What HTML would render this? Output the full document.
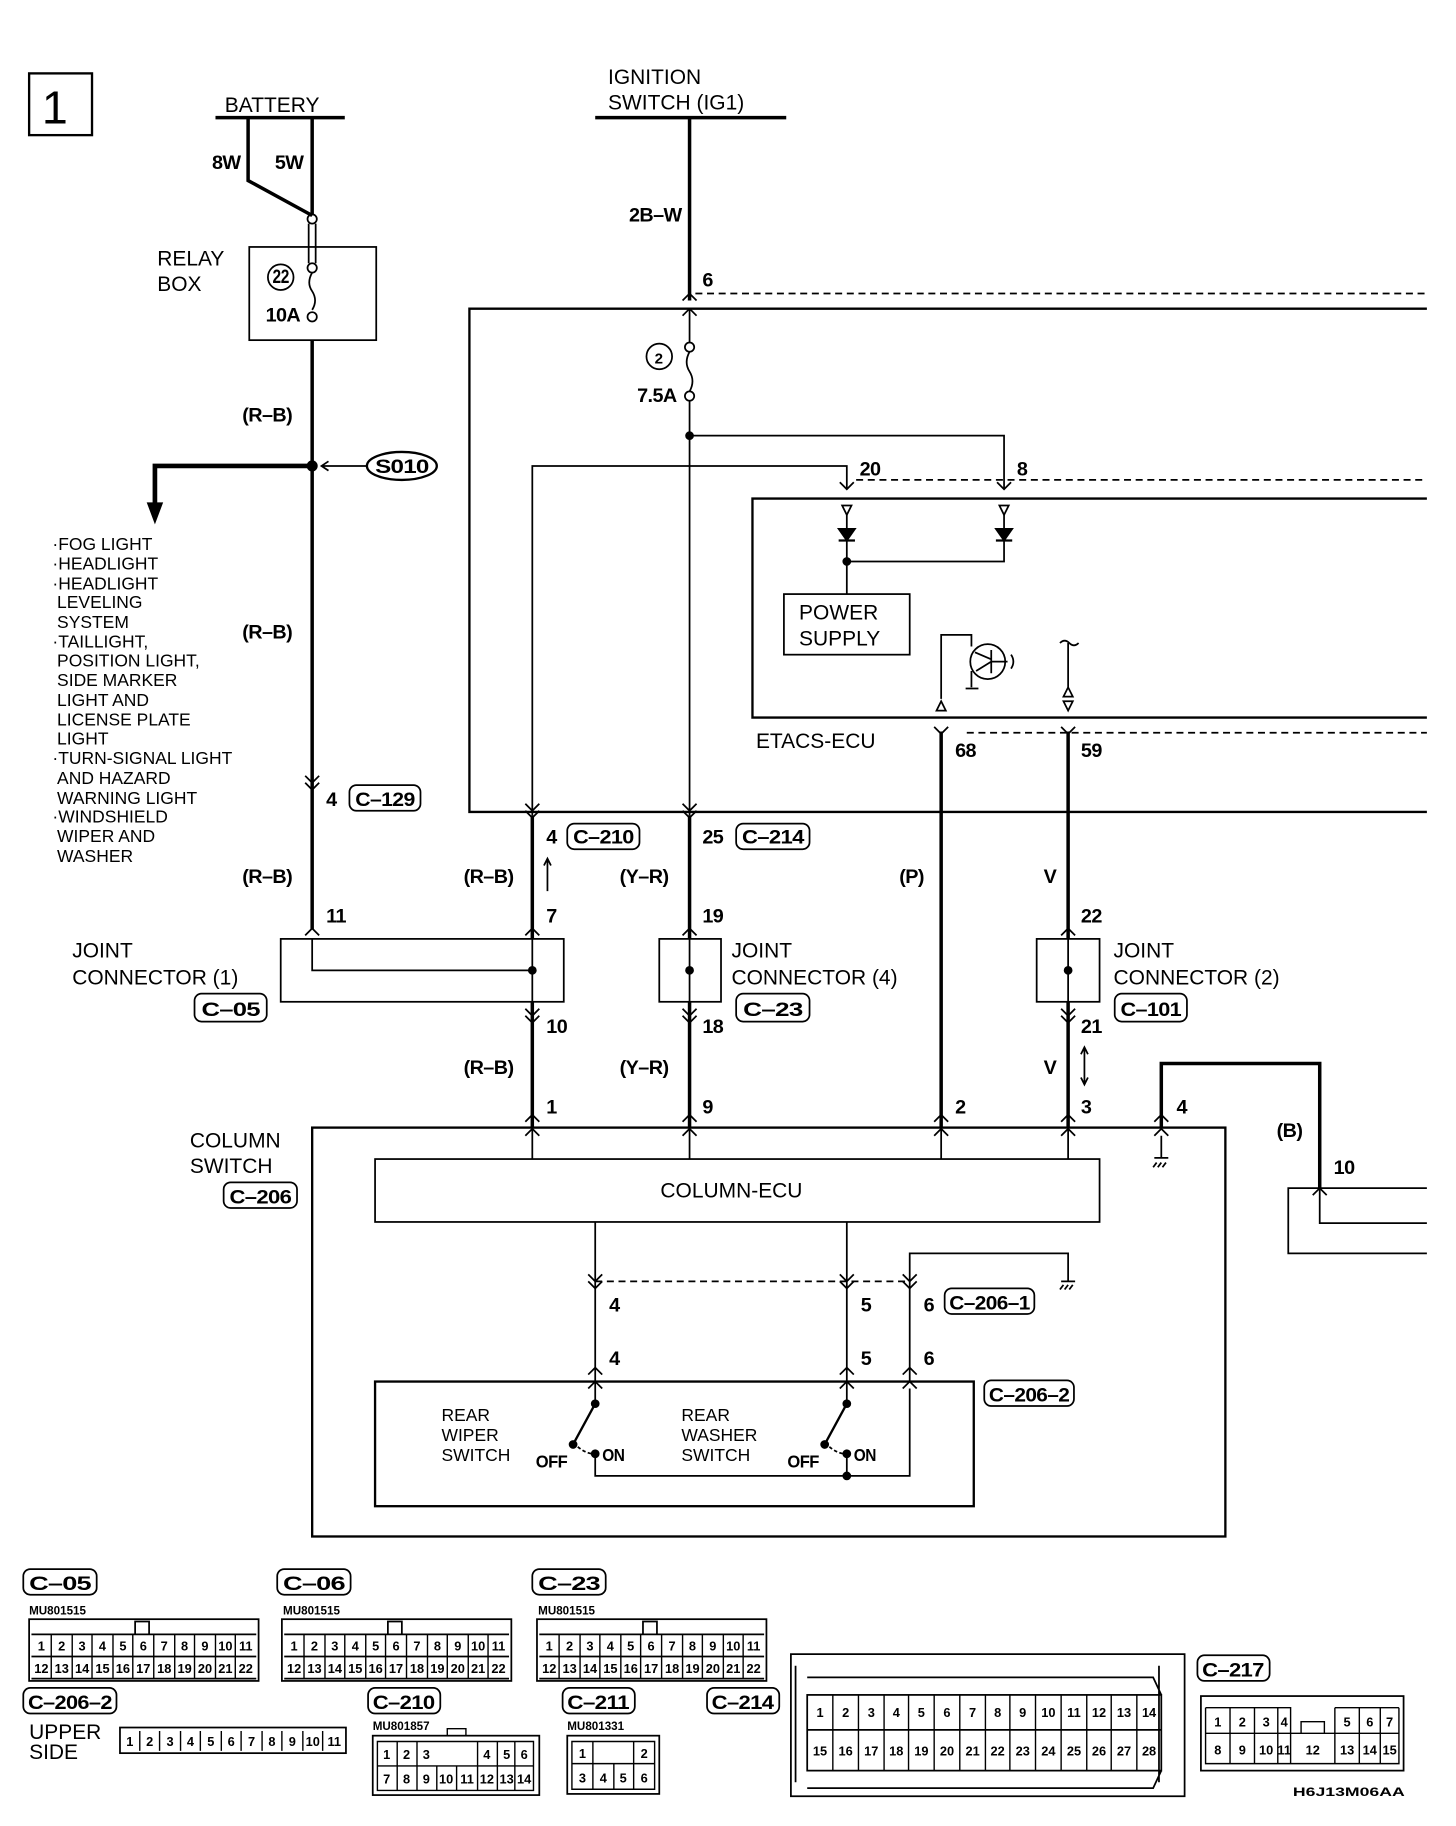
<!DOCTYPE html>
<html><head><meta charset="utf-8"><style>
html,body{margin:0;padding:0;background:#fff}
svg{display:block}
text{font-family:"Liberation Sans",sans-serif;fill:#000}
.n{font-family:"Liberation Sans",sans-serif;font-weight:bold;font-size:17px;letter-spacing:-0.5px}
.t{font-size:18px}
.s{font-size:15px}
.c{font-family:"Liberation Sans",sans-serif;font-weight:bold;font-size:11px;text-anchor:middle}
.m{font-family:"Liberation Sans",sans-serif;font-weight:bold;font-size:10px}
</style></head><body>
<svg width="1456" height="1826" viewBox="0 0 1240 1555" preserveAspectRatio="none" xmlns="http://www.w3.org/2000/svg">
<g transform="scale(0.992)">
<g fill="none" stroke="#000" stroke-width="1.5">
<rect x="25" y="63" width="54" height="53" stroke-width="2"/>
<line x1="185" y1="101" x2="296" y2="101" stroke-width="3"/>
<path d="M213 101 V155 L268 185 M268 101 V185" stroke-width="3"/>
<circle cx="268" cy="188" r="4"/>
<path d="M265 192 V226 M271 192 V226"/>
<circle cx="268" cy="230" r="4"/>
<path d="M268 234 q-5 9 0 16 q5 8 0 16"/>
<circle cx="268" cy="272" r="4"/>
<rect x="214" y="212" width="109" height="80"/>
<circle cx="241" cy="238" r="11"/>
<line x1="268" y1="292" x2="268" y2="798" stroke-width="3"/>
<circle cx="268" cy="400" r="4" fill="#000"/>
<path d="M268 400 H133 V440" stroke-width="4"/>
<path d="M127 432 L133 448 L139 432 Z" fill="#000"/>
<ellipse cx="345" cy="400" rx="30" ry="12" stroke-width="2"/>
<path d="M315 400 H276 M282 396 L276 400 L282 404"/>
<path d="M262 666 L268 672 L274 666 M262 672 L268 678 L274 672"/>
<path d="M262 803 L268 797 L274 803"/>
<rect x="241" y="806" width="243" height="54"/>
<path d="M268 806 V833 H457"/>
<circle cx="457" cy="833" r="3" fill="#000"/>
<path d="M1225 265 H403 V697 H1225" stroke-width="2"/>
<line x1="597" y1="252" x2="1225" y2="252" stroke-dasharray="6,4"/>
<line x1="511" y1="101" x2="675" y2="101" stroke-width="3"/>
<line x1="592" y1="101" x2="592" y2="258" stroke-width="3"/>
<path d="M586 258 L592 252 L598 258 M586 271 L592 265 L598 271"/>
<line x1="592" y1="265" x2="592" y2="294"/>
<circle cx="592" cy="298" r="4"/>
<path d="M592 302 q-5 9 0 17 q5 8 0 17"/>
<circle cx="592" cy="340" r="4"/>
<circle cx="566" cy="306" r="11"/>
<line x1="592" y1="344" x2="592" y2="700"/>
<circle cx="592" cy="374" r="3" fill="#000"/>
<path d="M592 374 H862 V420"/>
<path d="M457 700 V400 H727 V420"/>
<path d="M721 414 L727 420 L733 414 M856 414 L862 420 L868 414"/>
<line x1="735" y1="412" x2="1225" y2="412" stroke-dasharray="6,4"/>
<path d="M1225 428 H646 V616 H1225" stroke-width="2"/>
<path d="M723 434 H731 L727 442 Z M858 434 H866 L862 442 Z"/>
<path d="M727 442 V510 M862 442 V482 H727" />
<path d="M720 454 H734 L727 464 Z M855 454 H869 L862 464 Z" fill="#000"/>
<path d="M720 464 H734 M855 464 H869" stroke-width="2"/>
<circle cx="727" cy="482" r="3" fill="#000"/>
<rect x="673" y="510" width="108" height="52"/>
<path d="M808 600 V545 H834 V555"/>
<path d="M804 610 L808 602 L812 610 Z"/>
<circle cx="848" cy="568" r="15"/>
<path d="M837 560 L851 566 M851 568 L838 576 M851 558 V578 M851 568 H865 M834 576 V590 M829 591 H840"/>
<path d="M868 562 q4 6 0 12"/>
<path d="M910 552 q4 -4 8 0 q4 4 8 0 M917 552 V590 M913 598 L917 590 L921 598 Z M913 602 H921 L917 610 Z"/>
<line x1="830" y1="629" x2="1225" y2="629" stroke-dasharray="6,4"/>
<path d="M802 624 L808 630 L814 624 M911 624 L917 630 L923 624"/>
<line x1="808" y1="628" x2="808" y2="968" stroke-width="3"/>
<line x1="917" y1="628" x2="917" y2="806" stroke-width="3"/>
<line x1="917" y1="860" x2="917" y2="968" stroke-width="3"/>
<line x1="917" y1="806" x2="917" y2="860"/>
<line x1="457" y1="700" x2="457" y2="806" stroke-width="3"/>
<line x1="457" y1="860" x2="457" y2="968" stroke-width="3"/>
<line x1="457" y1="806" x2="457" y2="860"/>
<line x1="592" y1="700" x2="592" y2="806" stroke-width="3"/>
<line x1="592" y1="860" x2="592" y2="968" stroke-width="3"/>
<line x1="592" y1="806" x2="592" y2="860"/>
<path d="M451 690 L457 696 L463 690 M451 696 L457 702 L463 696 M586 690 L592 696 L598 690 M586 696 L592 702 L598 696"/>
<path d="M451 803 L457 797 L463 803 M586 803 L592 797 L598 803 M911 803 L917 797 L923 803"/>
<path d="M451 866 L457 872 L463 866 M451 872 L457 878 L463 872 M586 866 L592 872 L598 866 M586 872 L592 878 L598 872 M911 866 L917 872 L923 866 M911 872 L917 878 L923 872"/>
<path d="M470 765 V737 M467 743 L470 737 L473 743"/>
<path d="M931 900 V930 M928 905 L931 899 L934 905 M928 925 L931 931 L934 925"/>
<rect x="566" y="806" width="53" height="54"/>
<circle cx="592" cy="833" r="3" fill="#000"/>
<rect x="890" y="806" width="54" height="54"/>
<circle cx="917" cy="833" r="3" fill="#000"/>
<rect x="268" y="968" width="784" height="351" stroke-width="2"/>
<path d="M451 963 L457 957 L463 963 M451 975 L457 969 L463 975 M586 963 L592 957 L598 963 M586 975 L592 969 L598 975 M802 963 L808 957 L814 963 M802 975 L808 969 L814 975 M911 963 L917 957 L923 963 M911 975 L917 969 L923 975 M991 963 L997 957 L1003 963 M991 975 L997 969 L1003 975"/>
<path d="M457 968 V995 M592 968 V995 M808 968 V995 M917 968 V995"/>
<rect x="322" y="995" width="622" height="54"/>
<path d="M997 968 V913 H1133 V1020" stroke-width="3"/>
<path d="M997 975 V994 M991 994 H1003 M993 998 l-3 4 M997 998 l-3 4 M1001 998 l-3 4"/>
<path d="M1127 1026 L1133 1020 L1139 1026"/>
<path d="M1225 1020 H1106 V1076 H1225 M1133 1020 V1050 H1225"/>
<path d="M511 1049 V1205 M727 1049 V1205"/>
<path d="M781 1186 V1076 H917 V1100 M911 1100 H923 M913 1103 l-3 4 M917 1103 l-3 4 M921 1103 l-3 4"/>
<line x1="511" y1="1100" x2="781" y2="1100" stroke-dasharray="6,4"/>
<path d="M505 1094 L511 1100 L517 1094 M505 1100 L511 1106 L517 1100 M721 1094 L727 1100 L733 1094 M721 1100 L727 1106 L733 1100 M775 1094 L781 1100 L787 1094 M775 1100 L781 1106 L787 1100"/>
<path d="M505 1180 L511 1174 L517 1180 M505 1192 L511 1186 L517 1192 M721 1180 L727 1174 L733 1180 M721 1192 L727 1186 L733 1192 M775 1180 L781 1174 L787 1180 M775 1192 L781 1186 L787 1192"/>
<rect x="322" y="1186" width="514" height="107" stroke-width="2"/>
<path d="M511 1205 L492 1240 M727 1205 L708 1240" stroke-width="2"/>
<circle cx="511" cy="1205" r="3" fill="#000"/><circle cx="492" cy="1240" r="3" fill="#000"/>
<circle cx="727" cy="1205" r="3" fill="#000"/><circle cx="708" cy="1240" r="3" fill="#000"/>
<circle cx="511" cy="1248" r="3" fill="#000"/><circle cx="727" cy="1248" r="3" fill="#000"/>
<circle cx="727" cy="1267" r="3" fill="#000"/>
<path d="M496 1242 q6 5 12 6 M712 1242 q6 5 12 6" stroke-dasharray="3,2"/>
<path d="M511 1248 V1267 H781 V1192 M727 1248 V1267"/>
<g stroke-width="1.5">
<rect x="300" y="674" width="61" height="22" rx="6"/>
<rect x="487" y="707" width="62" height="22" rx="6"/>
<rect x="632" y="707" width="63" height="22" rx="6"/>
<rect x="167" y="853" width="62" height="24" rx="6"/>
<rect x="632" y="853" width="63" height="24" rx="6"/>
<rect x="957" y="853" width="62" height="24" rx="6"/>
<rect x="192" y="1015" width="63" height="22" rx="6"/>
<rect x="811" y="1106" width="77" height="22" rx="6"/>
<rect x="845" y="1185" width="77" height="22" rx="6"/>
<rect x="20" y="1347" width="63" height="22" rx="6"/>
<rect x="238" y="1347" width="63" height="22" rx="6"/>
<rect x="457" y="1347" width="63" height="22" rx="6"/>
<rect x="20" y="1449" width="80" height="22" rx="6"/>
<rect x="316" y="1449" width="62" height="22" rx="6"/>
<rect x="483" y="1449" width="62" height="22" rx="6"/>
<rect x="607" y="1449" width="62" height="22" rx="6"/>
<rect x="1028" y="1421" width="62" height="22" rx="6"/>
</g>
<g id="c22">
<rect x="25" y="1390" width="197" height="53"/>
<path d="M27 1403 H220 M27 1422 H220 M27 1441 H220 M116 1403 V1392 H128 V1403"/>
<path d="M44 1403 V1441 M62 1403 V1441 M79 1403 V1441 M97 1403 V1441 M114 1403 V1441 M132 1403 V1441 M150 1403 V1441 M167 1403 V1441 M185 1403 V1441 M202 1403 V1441" stroke-width="1.2"/>
</g>
<use href="#c22" x="217"/>
<use href="#c22" x="436"/>
<rect x="103" y="1483" width="194" height="22"/>
<path d="M120 1486 V1503 M137 1486 V1503 M155 1486 V1503 M172 1486 V1503 M190 1486 V1503 M207 1486 V1503 M225 1486 V1503 M242 1486 V1503 M260 1486 V1503 M277 1486 V1503" stroke-width="1.2"/>
<rect x="320" y="1490" width="143" height="51"/>
<path d="M324 1495 H458 V1537 H324 Z M324 1516 H458 M341 1495 V1537 M358 1495 V1537 M375 1516 V1537 M392 1516 V1537 M410 1495 V1537 M427 1495 V1537 M442 1495 V1537 M384 1490 V1484 H400 V1490" stroke-width="1.2"/>
<rect x="487" y="1490" width="79" height="50"/>
<path d="M491 1495 H562 V1536 H491 Z M491 1514 H562 M509 1495 V1536 M527 1514 V1536 M544 1495 V1536" stroke-width="1.2"/>
<rect x="679" y="1420" width="338" height="122"/>
<rect x="693" y="1455" width="304" height="65"/>
<path d="M693 1485 H997 M683 1430 V1530 M995 1430 V1530 M693 1440 H990 L997 1455 M693 1535 H990 L997 1520"/>
<path d="M715 1455 V1520 M737 1455 V1520 M759 1455 V1520 M780 1455 V1520 M802 1455 V1520 M824 1455 V1520 M846 1455 V1520 M867 1455 V1520 M889 1455 V1520 M911 1455 V1520 M933 1455 V1520 M954 1455 V1520 M976 1455 V1520" stroke-width="1.2"/>
<rect x="1031" y="1456" width="174" height="64"/>
<path d="M1035 1488 H1201 M1035 1466 H1108 V1514 M1146 1466 H1201 M1035 1466 V1514 H1201 V1466 M1056 1466 V1514 M1077 1466 V1514 M1097 1466 V1514 M1146 1466 V1514 M1167 1466 V1514 M1185 1466 V1514 M1108 1488 H1146 M1117 1488 V1478 H1137 V1488" stroke-width="1.2"/>
</g>
<text x="36" y="106" font-size="40">1</text>
<text class="t" x="193" y="96">BATTERY</text>
<text class="n" x="182" y="145">8W</text>
<text class="n" x="236" y="145">5W</text>
<text class="t" x="135" y="228">RELAY</text>
<text class="t" x="135" y="250">BOX</text>
<text class="n" x="234" y="243" font-size="12" textLength="14" lengthAdjust="spacingAndGlyphs">22</text>
<text class="n" x="228" y="276" font-size="15">10A</text>
<text class="n" x="208" y="362">(R–B)</text>
<text class="n" x="208" y="548">(R–B)</text>
<text class="n" x="208" y="758">(R–B)</text>
<text class="n" x="322" y="406" font-size="15" textLength="46" lengthAdjust="spacingAndGlyphs">S010</text>
<g class="s">
<text x="45" y="472">·FOG LIGHT</text>
<text x="45" y="489">·HEADLIGHT</text>
<text x="45" y="506">·HEADLIGHT</text>
<text x="49" y="522">LEVELING</text>
<text x="49" y="539">SYSTEM</text>
<text x="45" y="556">·TAILLIGHT,</text>
<text x="49" y="572">POSITION LIGHT,</text>
<text x="49" y="589">SIDE MARKER</text>
<text x="49" y="606">LIGHT AND</text>
<text x="49" y="623">LICENSE PLATE</text>
<text x="49" y="639">LIGHT</text>
<text x="45" y="656">·TURN-SIGNAL LIGHT</text>
<text x="49" y="673">AND HAZARD</text>
<text x="49" y="690">WARNING LIGHT</text>
<text x="45" y="706">·WINDSHIELD</text>
<text x="49" y="723">WIPER AND</text>
<text x="49" y="740">WASHER</text>
</g>
<g class="n">
<text x="280" y="692">4</text>
<text x="305" y="692" textLength="51" lengthAdjust="spacingAndGlyphs">C–129</text>
<text x="280" y="792">11</text>
<text x="173" y="872" textLength="50" lengthAdjust="spacingAndGlyphs">C–05</text>
<text x="540" y="190">2B–W</text>
<text x="603" y="246">6</text>
<text x="562" y="312" font-size="13">2</text>
<text x="547" y="345">7.5A</text>
<text x="738" y="408">20</text>
<text x="873" y="408">8</text>
<text x="820" y="650">68</text>
<text x="928" y="650">59</text>
<text x="469" y="724">4</text>
<text x="492" y="724" textLength="52" lengthAdjust="spacingAndGlyphs">C–210</text>
<text x="603" y="724">25</text>
<text x="637" y="724" textLength="53" lengthAdjust="spacingAndGlyphs">C–214</text>
<text x="398" y="758">(R–B)</text>
<text x="532" y="758">(Y–R)</text>
<text x="772" y="758">(P)</text>
<text x="896" y="758">V</text>
<text x="469" y="792">7</text>
<text x="603" y="792">19</text>
<text x="928" y="792">22</text>
<text x="638" y="872" textLength="51" lengthAdjust="spacingAndGlyphs">C–23</text>
<text x="962" y="872" textLength="52" lengthAdjust="spacingAndGlyphs">C–101</text>
<text x="469" y="887">10</text>
<text x="603" y="887">18</text>
<text x="928" y="887">21</text>
<text x="398" y="922">(R–B)</text>
<text x="532" y="922">(Y–R)</text>
<text x="896" y="922">V</text>
<text x="469" y="956">1</text>
<text x="603" y="956">9</text>
<text x="820" y="956">2</text>
<text x="928" y="956">3</text>
<text x="1010" y="956">4</text>
<text x="1096" y="976">(B)</text>
<text x="1145" y="1008">10</text>
<text x="197" y="1033" textLength="53" lengthAdjust="spacingAndGlyphs">C–206</text>
<text x="523" y="1126">4</text>
<text x="739" y="1126">5</text>
<text x="793" y="1126">6</text>
<text x="815" y="1124" textLength="69" lengthAdjust="spacingAndGlyphs">C–206–1</text>
<text x="523" y="1172">4</text>
<text x="739" y="1172">5</text>
<text x="793" y="1172">6</text>
<text x="849" y="1203" textLength="69" lengthAdjust="spacingAndGlyphs">C–206–2</text>
<text x="460" y="1260" font-size="15" textLength="27" lengthAdjust="spacingAndGlyphs">OFF</text>
<text x="517" y="1254" font-size="15" textLength="19" lengthAdjust="spacingAndGlyphs">ON</text>
<text x="676" y="1260" font-size="15" textLength="27" lengthAdjust="spacingAndGlyphs">OFF</text>
<text x="733" y="1254" font-size="15" textLength="19" lengthAdjust="spacingAndGlyphs">ON</text>
<text x="25" y="1365" textLength="53" lengthAdjust="spacingAndGlyphs">C–05</text>
<text x="243" y="1365" textLength="53" lengthAdjust="spacingAndGlyphs">C–06</text>
<text x="462" y="1365" textLength="53" lengthAdjust="spacingAndGlyphs">C–23</text>
<text x="24" y="1467" textLength="72" lengthAdjust="spacingAndGlyphs">C–206–2</text>
<text x="320" y="1467" textLength="53" lengthAdjust="spacingAndGlyphs">C–210</text>
<text x="487" y="1467" textLength="53" lengthAdjust="spacingAndGlyphs">C–211</text>
<text x="611" y="1467" textLength="53" lengthAdjust="spacingAndGlyphs">C–214</text>
<text x="1032" y="1439" textLength="53" lengthAdjust="spacingAndGlyphs">C–217</text>
</g>
<text class="t" x="522" y="72">IGNITION</text>
<text class="t" x="522" y="94">SWITCH (IG1)</text>
<text class="t" x="686" y="532">POWER</text>
<text class="t" x="686" y="554">SUPPLY</text>
<text class="t" x="649" y="642">ETACS-ECU</text>
<text class="t" x="62" y="822">JOINT</text>
<text class="t" x="62" y="845">CONNECTOR (1)</text>
<text class="t" x="628" y="822">JOINT</text>
<text class="t" x="628" y="845">CONNECTOR (4)</text>
<text class="t" x="956" y="822">JOINT</text>
<text class="t" x="956" y="845">CONNECTOR (2)</text>
<text class="t" x="163" y="985">COLUMN</text>
<text class="t" x="163" y="1007">SWITCH</text>
<text class="t" x="567" y="1028">COLUMN-ECU</text>
<g class="s">
<text x="379" y="1220">REAR</text><text x="379" y="1237">WIPER</text><text x="379" y="1254">SWITCH</text>
<text x="585" y="1220">REAR</text><text x="585" y="1237">WASHER</text><text x="585" y="1254">SWITCH</text>
</g>
<text class="m" x="25" y="1386">MU801515</text>
<text class="m" x="243" y="1386">MU801515</text>
<text class="m" x="462" y="1386">MU801515</text>
<text class="t" x="25" y="1493" font-size="16">UPPER</text>
<text class="t" x="25" y="1510" font-size="16">SIDE</text>
<text class="m" x="320" y="1485">MU801857</text>
<text class="m" x="487" y="1485">MU801331</text>
<g id="n22" class="c">
<text x="35.5" y="1417">1</text><text x="53" y="1417">2</text><text x="70.5" y="1417">3</text><text x="88" y="1417">4</text><text x="105.5" y="1417">5</text><text x="123" y="1417">6</text><text x="141" y="1417">7</text><text x="158.5" y="1417">8</text><text x="176" y="1417">9</text><text x="193.5" y="1417">10</text><text x="211" y="1417">11</text>
<text x="35.5" y="1436">12</text><text x="53" y="1436">13</text><text x="70.5" y="1436">14</text><text x="88" y="1436">15</text><text x="105.5" y="1436">16</text><text x="123" y="1436">17</text><text x="141" y="1436">18</text><text x="158.5" y="1436">19</text><text x="176" y="1436">20</text><text x="193.5" y="1436">21</text><text x="211" y="1436">22</text>
</g>
<use href="#n22" x="217"/>
<use href="#n22" x="436"/>
<g class="c">
<text x="111.5" y="1499">1</text><text x="128.5" y="1499">2</text><text x="146" y="1499">3</text><text x="163.5" y="1499">4</text><text x="181" y="1499">5</text><text x="198.5" y="1499">6</text><text x="216" y="1499">7</text><text x="233.5" y="1499">8</text><text x="251" y="1499">9</text><text x="268.5" y="1499">10</text><text x="287" y="1499">11</text>
<text x="332" y="1510">1</text><text x="349" y="1510">2</text><text x="366" y="1510">3</text><text x="418" y="1510">4</text><text x="435" y="1510">5</text><text x="450" y="1510">6</text>
<text x="332" y="1531">7</text><text x="349" y="1531">8</text><text x="366" y="1531">9</text><text x="383" y="1531">10</text><text x="401" y="1531">11</text><text x="418" y="1531">12</text><text x="435" y="1531">13</text><text x="450" y="1531">14</text>
<text x="500" y="1509">1</text><text x="553" y="1509">2</text>
<text x="500" y="1530">3</text><text x="518" y="1530">4</text><text x="535" y="1530">5</text><text x="553" y="1530">6</text>
<text x="704" y="1474">1</text><text x="726" y="1474">2</text><text x="748" y="1474">3</text><text x="769.5" y="1474">4</text><text x="791" y="1474">5</text><text x="813" y="1474">6</text><text x="835" y="1474">7</text><text x="856.5" y="1474">8</text><text x="878" y="1474">9</text><text x="900" y="1474">10</text><text x="922" y="1474">11</text><text x="943.5" y="1474">12</text><text x="965" y="1474">13</text><text x="986.5" y="1474">14</text>
<text x="704" y="1507">15</text><text x="726" y="1507">16</text><text x="748" y="1507">17</text><text x="769.5" y="1507">18</text><text x="791" y="1507">19</text><text x="813" y="1507">20</text><text x="835" y="1507">21</text><text x="856.5" y="1507">22</text><text x="878" y="1507">23</text><text x="900" y="1507">24</text><text x="922" y="1507">25</text><text x="943.5" y="1507">26</text><text x="965" y="1507">27</text><text x="986.5" y="1507">28</text>
<text x="1045.5" y="1482">1</text><text x="1066.5" y="1482">2</text><text x="1087" y="1482">3</text><text x="1102.5" y="1482">4</text><text x="1156.5" y="1482">5</text><text x="1176" y="1482">6</text><text x="1193" y="1482">7</text>
<text x="1045.5" y="1506">8</text><text x="1066.5" y="1506">9</text><text x="1087" y="1506">10</text><text x="1102.5" y="1506">11</text><text x="1127" y="1506">12</text><text x="1156.5" y="1506">13</text><text x="1176" y="1506">14</text><text x="1193" y="1506">15</text>
</g>
<text class="m" x="1110" y="1542" font-size="15" textLength="96" lengthAdjust="spacingAndGlyphs">H6J13M06AA</text>
</g>
</svg>
</body></html>
